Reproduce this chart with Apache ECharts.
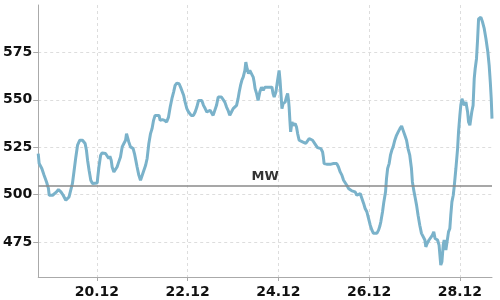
<!DOCTYPE html>
<html>
<head>
<meta charset="utf-8">
<script src="https://cdn.jsdelivr.net/npm/echarts@6/dist/echarts.min.js"></script>
<style>html,body{margin:0;padding:0;background:#fff}#c{width:500px;height:300px}</style>
</head>
<body>
<div id="c"></div>
<script>
// hours since 18.12 17:00, value
const points = [[0,521.7],[0.5,516.4],[1.9,513.8],[3.1,510.3],[4.4,506.7],[5.4,503.3],[5.8,499.7],[7.6,499.7],[8.4,500.6],[9.7,501.5],[10.7,502.7],[12.0,501.5],[13.2,499.7],[14.6,497.1],[15.5,496.2],[16.3,498.8],[17.2,502.4],[18.1,505.9],[19.0,512.9],[19.9,519.9],[20.8,526.1],[22.0,528.7],[23.4,528.7],[24.8,527],[25.5,523.4],[26.1,518.2],[26.9,512.9],[27.8,507.6],[28.7,505.9],[29.4,506.2],[31.2,506.2],[31.5,509.4],[32.1,514.6],[33.0,520.8],[33.8,522],[35.6,521.7],[36.4,520.8],[37.3,519.1],[37.9,520.3],[38.6,518.2],[39.1,514.6],[40.0,512],[40.9,512],[41.7,514.6],[42.6,517.3],[43.5,519.9],[44.4,525.2],[45.3,527],[46.2,528.7],[46.7,532.2],[47.4,532.2],[47.9,527.8],[48.8,525.2],[50.2,524.3],[50.9,521.7],[51.6,518.2],[52.3,514.6],[53.2,510.3],[54.1,507.6],[55.0,508.5],[55.9,512.9],[56.8,515.5],[57.6,519.1],[58.5,527],[59.4,532.2],[60.2,534.8],[61.0,539.2],[61.8,541.8],[62.7,542.7],[63.9,541.8],[64.5,539.2],[65.7,539.6],[66.8,539.2],[67.9,538.3],[68.9,540.9],[69.8,546.2],[70.7,550.6],[71.6,554.1],[72.4,557.6],[73.3,558.8],[74.5,558.5],[75.6,555.9],[76.9,552.4],[77.7,548.8],[78.6,545.4],[79.5,543.6],[80.9,541.8],[82.1,541.8],[83.0,543.6],[83.9,546.2],[84.8,549.7],[85.6,550.6],[86.5,549.7],[87.4,547.1],[88.3,545.4],[89.2,543.6],[90.1,542.7],[90.9,544.5],[91.7,543.6],[92.5,541.8],[93.4,542.7],[94.3,547.1],[95.2,551.5],[96.1,552.4],[96.9,551.5],[97.8,550.6],[98.7,548.8],[99.6,546.2],[100.4,544.5],[101.3,541.8],[102.2,543.6],[103.1,545.4],[104.0,546.2],[104.9,547.1],[105.7,550.6],[106.3,554.1],[107.0,557.6],[107.7,560.3],[108.4,562],[109.3,565.5],[109.8,569.9],[110.5,566.4],[111.2,563.8],[111.9,565.5],[112.8,564.6],[113.7,562],[114.2,559.4],[114.7,555.9],[115.5,553.3],[116.3,549.7],[117.2,554.1],[118.1,556.7],[119.0,555],[119.9,556.7],[120.8,555.9],[122.1,556.7],[122.5,557.6],[123.6,556.7],[124.2,553.3],[124.8,551.5],[125.7,554.1],[126.6,560.3],[127.4,565.5],[127.9,560.3],[128.5,551.5],[128.9,545.4],[129.5,548],[130.6,548.8],[131.3,551.5],[131.9,553.3],[132.4,549.7],[132.7,546.2],[133.1,539.2],[133.5,533.1],[134.2,538.3],[134.8,536.6],[135.9,537.5],[136.6,535.7],[137.2,532.2],[138.0,528.7],[138.9,529.6],[139.8,527.8],[140.6,528.7],[141.5,527],[142.4,527.8],[143.3,529.6],[144.2,528.7],[145.1,528.7],[145.9,527.8],[146.8,526.1],[147.7,524.8],[148.6,524.8],[149.5,524.3],[150.4,522.5],[150.8,519.9],[151.2,516.4],[152.5,516.1],[153.5,516.4],[154.9,516.1],[156.2,516.4],[157.0,517.3],[157.9,516.4],[158.8,514.6],[159.7,512],[160.6,510.3],[161.5,507.6],[162.3,506.7],[163.2,505],[164.1,503.3],[165.0,502.4],[165.9,502],[166.8,501.5],[167.6,501.5],[168.5,499.7],[169.4,498.8],[170.3,500.6],[171.2,500.6],[172.1,495.4],[172.9,492.7],[173.8,491],[174.7,487.5],[175.6,483.9],[176.5,481.3],[177.3,479.6],[178.2,478.7],[179.1,479.6],[180.0,481.3],[180.7,483.5],[181.2,485.7],[182.1,491],[182.8,496.2],[183.7,501.5],[184.2,508.5],[184.8,513.8],[185.6,516.4],[186.3,520.8],[187.0,523.4],[187.7,525.2],[188.6,528.7],[189.5,531.3],[190.4,533.1],[191.3,534.8],[192.2,536.2],[193.0,533.9],[193.9,531.3],[194.8,528.7],[195.6,524.3],[196.5,520.8],[197.4,513.8],[197.9,506.7],[198.6,502.4],[199.3,498.8],[200.1,494.5],[200.9,489.2],[201.8,483.9],[202.7,479.6],[203.6,478.7],[204.5,476.1],[205.0,472.5],[205.7,474.3],[206.7,476.1],[207.6,476.1],[208.5,478.7],[209.2,480.4],[209.9,476.9],[211.2,476.1],[212.0,473.4],[212.9,462.9],[213.5,464.6],[214.2,473.4],[214.7,476.1],[215.6,470.8],[216.5,469.9],[217.0,480.4],[217.7,482.2],[218.2,489.2],[218.8,496.2],[219.5,499.7],[220.0,504.1],[220.9,513.8],[221.8,524.3],[222.3,533.1],[223.0,541.8],[223.5,547.1],[224.1,550.6],[224.7,548.8],[225.3,547.1],[226.2,548.8],[227.1,543.6],[227.6,538.3],[228.3,536.6],[228.8,540.1],[229.3,543.6],[230.0,547.1],[230.6,561.2],[231.1,566.4],[231.8,571.7],[232.4,582.2],[232.9,592.7],[234.1,593.6],[235.0,591],[235.9,587.5],[236.8,582.2],[237.8,575.2],[238.5,568.2],[239.1,559.4],[239.6,550.6],[240,540.1]];
const xTickHours = [31, 79, 127, 175, 223];
const xTickLabels = ['20.12', '22.12', '24.12', '26.12', '28.12'];
const yTicks = [475, 500, 525, 550, 575];
const meanValue = 504.7;
const meanLabel = 'MW';

const chart = echarts.init(document.getElementById('c'), null, {renderer: 'canvas'});
const font = 'DejaVu Sans';
chart.setOption({
  animation: false,
  grid: {left: 38, right: 8, top: 5, bottom: 23, containLabel: false},
  xAxis: {
    type: 'value', min: 0, max: 240,
    axisLine: {lineStyle: {color: '#aaaaaa', width: 1}},
    axisTick: {show: true, length: 4, customValues: xTickHours, lineStyle: {color: '#aaaaaa'}},
    axisLabel: {customValues: xTickHours, margin: 8, color: '#111', fontFamily: font, fontWeight: 'bold', fontSize: 14,
      formatter: v => xTickLabels[xTickHours.indexOf(v)] || ''},
    splitLine: {show: true, lineStyle: {color: '#dddddd', type: [3, 3], width: 1}}
  },
  yAxis: {
    type: 'value', min: 456.6, max: 600,
    axisLine: {show: true, lineStyle: {color: '#aaaaaa', width: 1}},
    axisTick: {show: true, length: 5, customValues: yTicks, lineStyle: {color: '#aaaaaa'}},
    axisLabel: {customValues: yTicks, margin: 6, color: '#111', fontFamily: font, fontWeight: 'bold', fontSize: 14},
    splitLine: {show: true, lineStyle: {color: '#dddddd', type: [3, 3], width: 1}}
  },
  series: [{
    type: 'line',
    data: points,
    showSymbol: false,
    lineStyle: {color: '#7ab2ca', width: 3},
    itemStyle: {color: '#7ab2ca'},
    markLine: {
      silent: true, symbol: 'none',
      lineStyle: {color: '#8a8a8a', type: 'solid', width: 1.5},
      label: {show: true, position: 'insideMiddleTop', formatter: meanLabel, color: '#333', fontFamily: font, fontWeight: 'bold', fontSize: 13, distance: 3},
      data: [{yAxis: meanValue}]
    }
  }]
});
</script>
</body>
</html>
